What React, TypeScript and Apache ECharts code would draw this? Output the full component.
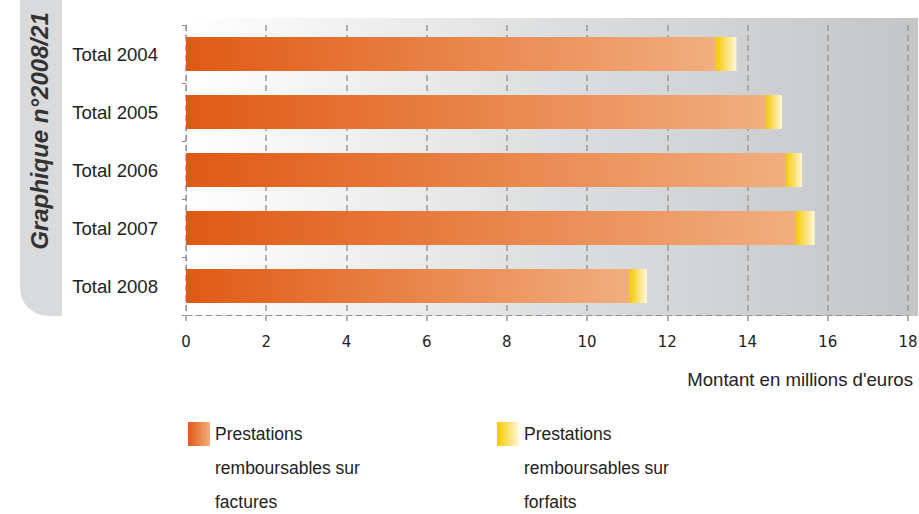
import React, { useEffect, useRef } from "react";
import * as echarts from "echarts";

const categories = ["Total 2004", "Total 2005", "Total 2006", "Total 2007", "Total 2008"];
const factures = [13.2, 14.45, 14.95, 15.2, 11.05];
const forfaits = [0.52, 0.41, 0.41, 0.47, 0.44];
const seriesNames = [
  "Prestations remboursables sur factures",
  "Prestations remboursables sur forfaits",
];
const xTicks = { min: 0, max: 18, interval: 2 };
const titleText = "Graphique n°2008/21";
const axisName = "Montant en millions d'euros";

const orangeGrad = {
  type: "linear", x: 0, y: 0, x2: 1, y2: 0,
  colorStops: [
    { offset: 0, color: "#E05914" },
    { offset: 1, color: "#F1AE7E" },
  ],
};
const yellowGrad = {
  type: "linear", x: 0, y: 0, x2: 1, y2: 0,
  colorStops: [
    { offset: 0, color: "#F5C800" },
    { offset: 1, color: "#FFF7DA" },
  ],
};

const legendFmt = (name: string) => "\n\n" + name.replace(" remboursables sur ", "\nremboursables sur\n");

export default function App() {
  const ref = useRef<HTMLDivElement>(null);
  useEffect(() => {
    if (!ref.current) return;
    const chart = echarts.init(ref.current, null, { renderer: "svg" });
    const legendCommon = {
      top: 349,
      padding: 0,
      itemWidth: 22,
      itemHeight: 24,
      icon: "rect",
      selectedMode: false,
      formatter: legendFmt,
      textStyle: {
        fontFamily: "Liberation Sans",
        fontSize: 17.5,
        lineHeight: 34,
        color: "#222",
      },
    };
    chart.setOption({
      animation: false,
      backgroundColor: "#fff",
      grid: { left: 186, right: 11, top: 25, bottom: 199, containLabel: false, outerBoundsMode: "none" },
      graphic: [
        {
          type: "rect",
          z: -10,
          shape: { x: 186, y: 18, width: 732, height: 298 },
          style: {
            fill: {
              type: "linear", x: 0, y: 0, x2: 1, y2: 0,
              colorStops: [
                { offset: 0, color: "#FFFFFF" },
                { offset: 0.5, color: "#DDDEDF" },
                { offset: 1, color: "#C4C5C7" },
              ],
            },
          },
          silent: true,
        },
        {
          type: "rect",
          z: -10,
          shape: { x: 20, y: -2, width: 42, height: 318, r: [0, 0, 0, 28] },
          style: { fill: "#D9DADC" },
          silent: true,
        },
        {
          type: "text",
          x: 39,
          y: 131,
          rotation: Math.PI / 2,
          style: {
            text: titleText,
            fontFamily: "Liberation Sans",
            fontSize: 24,
            fontWeight: "bold",
            fontStyle: "italic",
            fill: "#333",
            align: "center",
            verticalAlign: "middle",
          },
        },
        {
          type: "text",
          x: 913,
          y: 379,
          style: {
            text: axisName,
            fontFamily: "Liberation Sans",
            fontSize: 18.6,
            fill: "#222",
            align: "right",
            verticalAlign: "middle",
          },
        },
      ],
      legend: [
        { ...legendCommon, left: 188, data: [seriesNames[0]] },
        { ...legendCommon, left: 497, data: [seriesNames[1]] },
      ],
      xAxis: {
        type: "value",
        min: xTicks.min,
        max: xTicks.max,
        interval: xTicks.interval,
        axisLine: { show: true, lineStyle: { color: "#8f8f8f", type: [6, 4], width: 1 } },
        axisTick: { show: true, length: 6, lineStyle: { color: "#b0b0b0", width: 2 } },
        splitLine: { show: true, lineStyle: { color: "#9a9a9a", type: [6, 4], width: 1.5 } },
        axisLabel: {
          margin: 19,
          fontFamily: "DejaVu Sans",
          fontSize: 15,
          color: "#222",
        },
      },
      yAxis: {
        type: "category",
        data: categories,
        inverse: true,
        axisLine: { show: true, lineStyle: { color: "#9a9a9a", type: [6, 4], width: 1 } },
        axisTick: { show: true, length: 4, lineStyle: { color: "#8a8a8a", width: 1 } },
        axisLabel: {
          margin: 28,
          fontFamily: "Liberation Sans",
          fontSize: 18.6,
          color: "#222",
        },
        splitLine: { show: false },
      },
      series: [
        {
          name: seriesNames[0],
          type: "bar",
          stack: "total",
          barWidth: 34,
          data: factures,
          itemStyle: { color: orangeGrad },
        },
        {
          name: seriesNames[1],
          type: "bar",
          stack: "total",
          barWidth: 34,
          data: forfaits,
          itemStyle: { color: yellowGrad },
        },
      ],
    });
    return () => chart.dispose();
  }, []);
  return <div ref={ref} style={{ width: 919, height: 514, position: "absolute", left: 0, top: 0 }} />;
}
